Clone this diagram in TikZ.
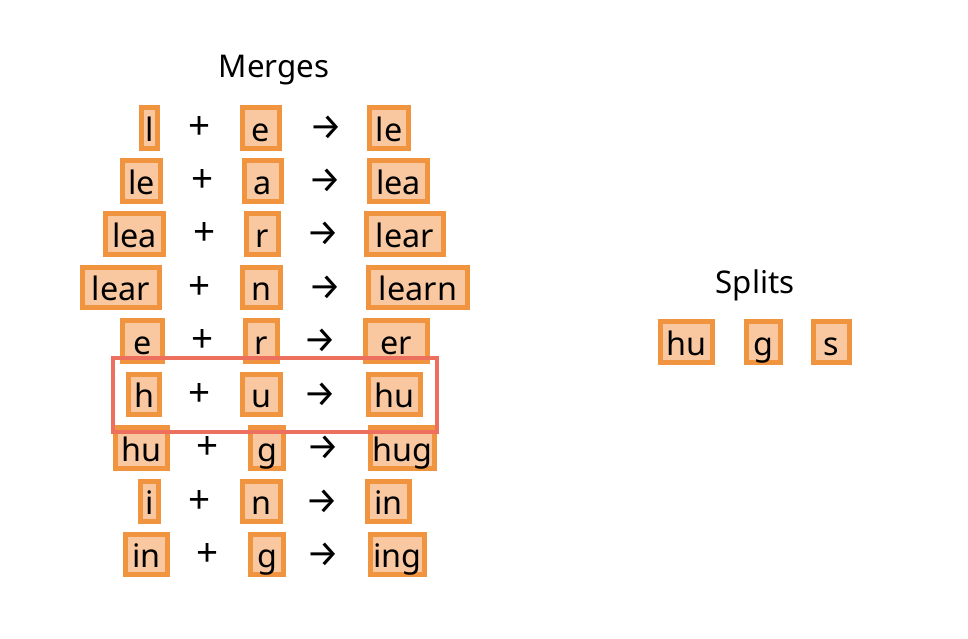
\documentclass[tikz,border=0pt]{standalone}
\usepackage{fontspec}
\setmainfont{Noto Sans}
\newfontfamily\arrowfont{Fira Sans}
\usepackage{tikz}

\begin{document}
\begin{tikzpicture}[x=1cm,y=1cm,
  tok/.style={draw=tokline, fill=tokfill, line width=1.5pt, inner xsep=0pt, inner ysep=0pt,
    text height=0.335cm, text depth=0.07cm, font=\fontsize{9.2}{11}\selectfont},
  op/.style={font=\fontsize{11}{13}\selectfont},
  arr/.style={font=\fontsize{10.5}{12}\arrowfont},
  ttl/.style={font=\fontsize{8.9}{11}\selectfont}]
\definecolor{tokfill}{RGB}{249,200,160}
\definecolor{tokline}{RGB}{241,148,64}
\definecolor{hilite}{RGB}{237,112,94}
\useasboundingbox (0,0) rectangle (9.68,-6.38);
%% --- merges ---
\node[ttl] (mtitle) at (2.74,-0.70) {Merges};
% row 1
\node[tok, minimum width=0.16cm] (l1) at (1.495,-1.28) {l};
\node[op] (p1) at (2.00,-1.28) {+};
\node[tok, minimum width=0.37cm] (m1) at (2.61,-1.28) {e};
\node[arr] (a1) at (3.26,-1.28) {→};
\node[tok, minimum width=0.39cm] (r1) at (3.89,-1.28) {le};
% row 2
\node[tok, minimum width=0.38cm] (l2) at (1.415,-1.81) {le};
\node[op] (p2) at (2.03,-1.81) {+};
\node[tok, minimum width=0.37cm] (m2) at (2.63,-1.81) {a};
\node[arr] (a2) at (3.25,-1.81) {→};
\node[tok, minimum width=0.58cm] (r2) at (3.985,-1.81) {lea};
% row 3
\node[tok, minimum width=0.58cm] (l3) at (1.345,-2.34) {lea};
\node[op] (p3) at (2.05,-2.34) {+};
\node[tok, minimum width=0.32cm] (m3) at (2.625,-2.34) {r};
\node[arr] (a3) at (3.23,-2.34) {→};
\node[tok, minimum width=0.77cm] (r3) at (4.05,-2.34) {lear};
% row 4
\node[tok, minimum width=0.77cm] (l4) at (1.21,-2.875) {lear};
\node[op] (p4) at (2.00,-2.875) {+};
\node[tok, minimum width=0.38cm] (m4) at (2.615,-2.875) {n};
\node[arr] (a4) at (3.25,-2.875) {→};
\node[tok, minimum width=0.99cm] (r4) at (4.18,-2.875) {learn};
% row 5
\node[tok, minimum width=0.40cm] (l5) at (1.425,-3.41) {e};
\node[op] (p5) at (2.03,-3.41) {+};
\node[tok, minimum width=0.32cm] (m5) at (2.615,-3.41) {r};
\node[arr] (a5) at (3.20,-3.41) {→};
\node[tok, minimum width=0.62cm] (r5) at (3.965,-3.41) {er};
% row 6
\node[tok, minimum width=0.31cm] (l6) at (1.44,-3.945) {h};
\node[op] (p6) at (2.00,-3.945) {+};
\node[tok, minimum width=0.38cm] (m6) at (2.615,-3.945) {u};
\node[arr] (a6) at (3.20,-3.945) {→};
\node[tok, minimum width=0.52cm] (r6) at (3.945,-3.945) {hu};
% row 7
\node[tok, minimum width=0.52cm] (l7) at (1.415,-4.48) {hu};
\node[op] (p7) at (2.08,-4.48) {+};
\node[tok, minimum width=0.33cm] (m7) at (2.67,-4.48) {g};
\node[arr] (a7) at (3.23,-4.48) {→};
\node[tok, minimum width=0.64cm] (r7) at (4.025,-4.48) {hug};
% row 8
\node[tok, minimum width=0.18cm] (l8) at (1.495,-5.015) {i};
\node[op] (p8) at (2.00,-5.015) {+};
\node[tok, minimum width=0.38cm] (m8) at (2.615,-5.015) {n};
\node[arr] (a8) at (3.22,-5.015) {→};
\node[tok, minimum width=0.42cm] (r8) at (3.885,-5.015) {in};
% row 9
\node[tok, minimum width=0.42cm] (l9) at (1.465,-5.545) {in};
\node[op] (p9) at (2.08,-5.545) {+};
\node[tok, minimum width=0.33cm] (m9) at (2.67,-5.545) {g};
\node[arr] (a9) at (3.23,-5.545) {→};
\node[tok, minimum width=0.54cm] (r9) at (3.975,-5.545) {ing};
%% --- highlighted merge ---
\draw[hilite, line width=1.2pt] (1.13,-3.58) rectangle (4.37,-4.32);
%% --- splits ---
\node[ttl] (stitle) at (7.55,-2.85) {Splits};
\node[tok, minimum width=0.52cm] (s1) at (6.865,-3.42) {hu};
\node[tok, minimum width=0.34cm] (s2) at (7.635,-3.42) {g};
\node[tok, minimum width=0.36cm] (s3) at (8.315,-3.42) {s};
\end{tikzpicture}
\end{document}
